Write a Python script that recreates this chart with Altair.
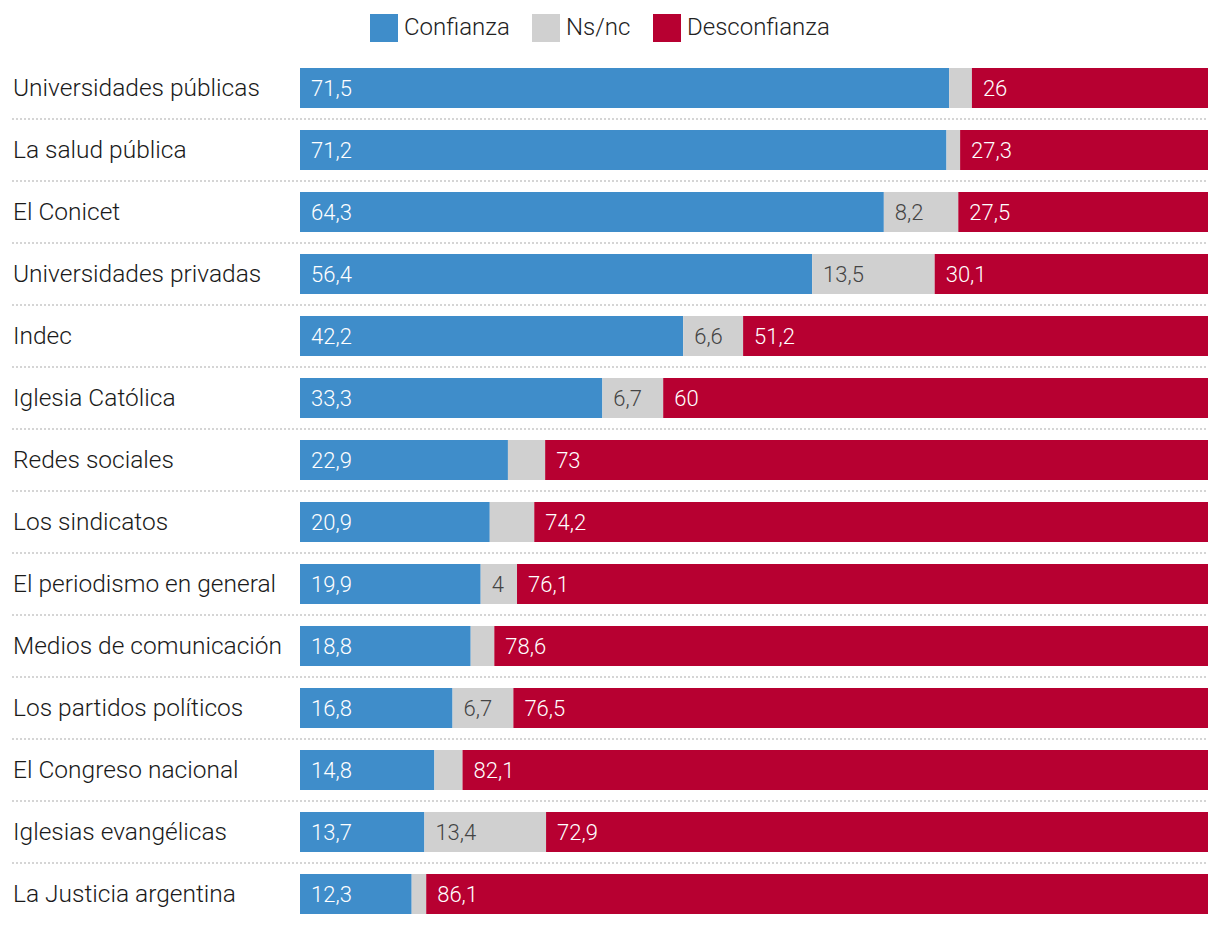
import altair as alt
import pandas as pd

categories = [
    "Universidades públicas", "La salud pública", "El Conicet", "Universidades privadas",
    "Indec", "Iglesia Católica", "Redes sociales", "Los sindicatos",
    "El periodismo en general", "Medios de comunicación", "Los partidos políticos",
    "El Congreso nacional", "Iglesias evangélicas", "La Justicia argentina",
]
confianza = [71.5, 71.2, 64.3, 56.4, 42.2, 33.3, 22.9, 20.9, 19.9, 18.8, 16.8, 14.8, 13.7, 12.3]
nsnc = [2.5, 1.5, 8.2, 13.5, 6.6, 6.7, 4.1, 4.9, 4.0, 2.6, 6.7, 3.1, 13.4, 1.6]
desconfianza = [26, 27.3, 27.5, 30.1, 51.2, 60, 73, 74.2, 76.1, 78.6, 76.5, 82.1, 72.9, 86.1]
nsnc_labelled = [False, False, True, True, True, True, False, False, True, False, True, False, True, False]

series = ["Confianza", "Ns/nc", "Desconfianza"]
colors = ["#3f8dca", "#d0d0d0", "#b70031"]
text_colors = ["#ffffff", "#444444", "#ffffff"]


def fmt(v):
    return f"{v:g}".replace(".", ",")


rows = []
for i, cat in enumerate(categories):
    start = 0.0
    for s, vals, tc in zip(series, [confianza, nsnc, desconfianza], text_colors):
        v = vals[i]
        show = nsnc_labelled[i] if s == "Ns/nc" else True
        rows.append({
            "cat": cat, "serie": s, "start": start, "end": start + v,
            "label": fmt(v) if show else "", "tcolor": tc,
        })
        start += v
df = pd.DataFrame(rows)
cats_df = pd.DataFrame({"cat": categories})
sep_df = pd.DataFrame({"cat": categories[:-1]})

yscale = alt.Scale(domain=categories, paddingInner=0, paddingOuter=0)
xscale = alt.Scale(domain=[0, 100], nice=False, zero=True)

rules = alt.Chart(sep_df).mark_rule(
    color="#c8c8c8", strokeWidth=1.5, strokeDash=[2, 2]
).encode(
    y=alt.Y("cat:N", scale=yscale, axis=None, bandPosition=1),
    x=alt.value(-288), x2=alt.value(908),
)

bars = alt.Chart(df).mark_bar(size=40, stroke=None).encode(
    y=alt.Y("cat:N", scale=yscale, axis=None),
    x=alt.X("start:Q", scale=xscale, axis=None),
    x2="end:Q",
    color=alt.Color(
        "serie:N",
        scale=alt.Scale(domain=series, range=colors),
        legend=alt.Legend(
            title=None, orient="none", direction="horizontal",
            legendX=70, legendY=-43,
            symbolType="square", symbolSize=784, symbolStrokeWidth=0,
            symbolOpacity=1, labelFontSize=24, labelFont="Roboto",
            labelFontWeight=300, labelColor="#222222", labelOffset=6,
            columnPadding=22, padding=0,
        ),
    ),
)

values = alt.Chart(df).mark_text(
    align="left", baseline="middle", dx=11, dy=1, fontSize=22, font="Roboto", fontWeight=300
).encode(
    y=alt.Y("cat:N", scale=yscale, axis=None),
    x=alt.X("start:Q", scale=xscale, axis=None),
    text="label:N",
    color=alt.Color("tcolor:N", scale=None, legend=None),
)

names = alt.Chart(cats_df).mark_text(
    align="left", baseline="middle", dy=1, fontSize=24.5, font="Roboto", fontWeight=300, color="#1a1a1a"
).encode(
    y=alt.Y("cat:N", scale=yscale, axis=None),
    x=alt.value(-287),
    text="cat:N",
)

chart = alt.layer(rules, bars, values, names).properties(
    width=908, height=868,
    autosize=alt.AutoSizeParams(type="none"),
    padding={"left": 292, "top": 49, "right": 4, "bottom": 0},
).configure_view(stroke=None)

chart.save("out.html", embed_options={"renderer": "svg", "actions": False})
